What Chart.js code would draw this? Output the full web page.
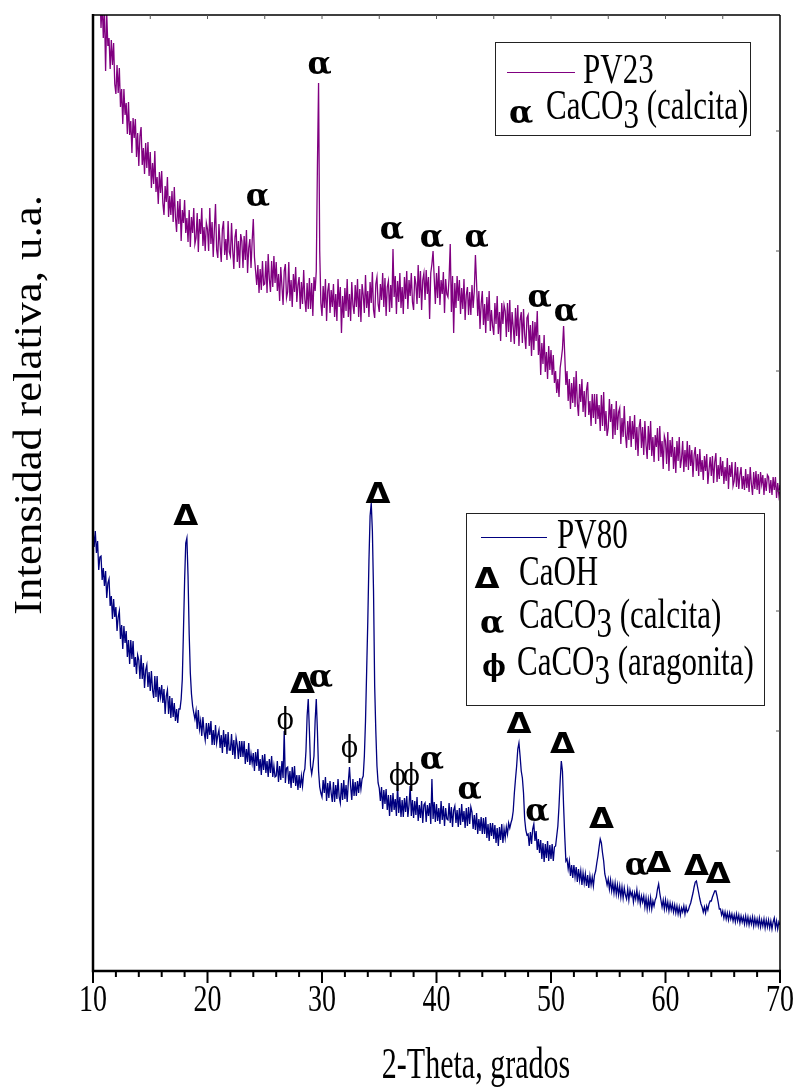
<!DOCTYPE html>
<html>
<head>
<meta charset="utf-8">
<script src="https://cdn.jsdelivr.net/npm/chart.js@4.4.1/dist/chart.umd.min.js"></script>
<style>
  body { margin: 0; background: #fff; }
  canvas { display: block; }
</style>
</head>
<body>
<canvas id="xrd-chart" width="798" height="1092"></canvas>
<script>
// -------- data (intensity in arbitrary units) -------- //

// scan grid: 10 to 70 degrees, 0.1 degree step
const startAngle = 10;
const stepAngle = 0.1;

const tickAngles = [10, 20, 30, 40, 50, 60, 70];

// PV23, one row per degree (x.0 ... x.9)
const pv23 = [
  1003, 981, 996, 967, 989, 957, 983, 943, 969, 933,
  962, 900, 957, 925, 933, 902, 931, 906, 928, 887,
  877, 906, 878, 903, 864, 882, 847, 882, 856, 868,
  837, 869, 836, 850, 818, 853, 833, 852, 814, 838,
  805, 835, 844, 806, 823, 797, 828, 803, 829, 795,
  819, 783, 808, 787, 820, 779, 794, 767, 799, 778,
  800, 768, 756, 785, 769, 794, 754, 775, 756, 780,
  749, 784, 754, 739, 770, 747, 772, 730, 761, 748,
  771, 738, 753, 729, 761, 724, 754, 738, 763, 727,
  733, 758, 719, 752, 737, 763, 725, 744, 720, 748,
  742, 720, 763, 727, 749, 714, 742, 767, 721, 713,
  747, 726, 709, 742, 750, 716, 732, 711, 750, 719,
  715, 748, 721, 702, 734, 742, 709, 730, 703, 737,
  730, 703, 735, 711, 741, 698, 723, 732, 703, 730,
  752, 714, 700, 686, 706, 678, 702, 681, 710, 686,
  687, 710, 678, 717, 692, 679, 710, 684, 715, 688,
  709, 680, 697, 670, 704, 685, 666, 700, 707, 673,
  679, 709, 670, 691, 664, 697, 679, 704, 669, 686,
  694, 662, 689, 667, 701, 672, 659, 688, 662, 693,
  662, 688, 655, 694, 680, 700, 805, 888, 720, 668,
  655, 685, 663, 692, 650, 680, 688, 658, 681, 664,
  687, 654, 677, 650, 692, 664, 684, 638, 675, 653,
  683, 660, 692, 654, 677, 650, 689, 666, 657, 686,
  664, 692, 654, 682, 649, 687, 676, 658, 696, 663,
  680, 654, 689, 668, 699, 661, 653, 687, 694, 667,
  659, 687, 671, 698, 664, 693, 655, 684, 690, 659,
  686, 663, 722, 674, 695, 657, 690, 669, 698, 663,
  684, 657, 694, 672, 700, 662, 691, 675, 698, 669,
  661, 695, 687, 667, 706, 673, 700, 661, 691, 698,
  671, 701, 677, 694, 652, 698, 707, 720, 693, 667,
  698, 673, 705, 666, 691, 677, 699, 658, 692, 677,
  674, 693, 727, 659, 695, 638, 688, 663, 695, 670,
  691, 657, 683, 662, 692, 651, 676, 684, 656, 679,
  656, 686, 663, 680, 716, 688, 655, 680, 642, 667,
  680, 646, 667, 638, 674, 650, 680, 640, 661, 645,
  636, 668, 647, 675, 637, 659, 630, 668, 647, 666,
  660, 634, 668, 639, 671, 629, 659, 644, 627, 663,
  635, 666, 625, 651, 659, 628, 662, 636, 622, 653,
  656, 625, 646, 615, 650, 621, 649, 630, 660, 616,
  636, 596, 628, 607, 636, 599, 619, 592, 625, 601,
  621, 596, 616, 588, 600, 578, 592, 574, 603, 612,
  622, 645, 616, 586, 600, 570, 592, 562, 588, 568,
  594, 564, 600, 568, 555, 587, 569, 592, 559, 580,
  554, 581, 589, 556, 570, 545, 577, 553, 577, 547,
  577, 552, 566, 540, 576, 545, 579, 540, 560, 535,
  543, 572, 549, 567, 532, 562, 536, 570, 541, 559,
  563, 527, 553, 534, 565, 537, 523, 550, 531, 555,
  524, 550, 532, 556, 521, 544, 515, 544, 552, 523,
  544, 516, 550, 526, 512, 545, 521, 550, 515, 534,
  509, 536, 524, 543, 510, 545, 514, 530, 502, 535,
  530, 507, 539, 500, 531, 514, 534, 502, 524, 498,
  530, 510, 534, 503, 512, 530, 499, 521, 504, 530,
  501, 526, 505, 521, 494, 516, 524, 500, 517, 495,
  522, 499, 511, 491, 515, 500, 517, 487, 501, 514,
  495, 515, 488, 509, 518, 489, 506, 492, 514, 495,
  510, 487, 504, 490, 513, 482, 506, 494, 509, 485,
  490, 509, 484, 504, 482, 496, 504, 482, 495, 481,
  502, 483, 497, 479, 504, 487, 476, 499, 482, 500,
  481, 497, 477, 499, 487, 496, 476, 493, 480, 496,
  494, 478, 491, 476, 494, 481, 494, 473, 488, 476,
  486
];

// PV80, one row per degree (x.0 ... x.9)
const pv80 = [
  442, 424, 440, 418, 430, 401, 414, 415, 391, 403,
  385, 400, 373, 388, 392, 365, 375, 352, 372, 354,
  364, 340, 354, 360, 332, 346, 322, 345, 328, 340,
  314, 331, 307, 331, 312, 330, 304, 314, 297, 316,
  311, 292, 316, 292, 308, 283, 301, 306, 284, 299,
  280, 300, 281, 273, 295, 274, 295, 269, 284, 274,
  286, 268, 282, 257, 275, 281, 257, 275, 253, 273,
  254, 268, 250, 262, 248, 262, 262, 272, 292, 340,
  390, 428, 433, 395, 337, 298, 277, 265, 258, 252,
  260, 242, 261, 242, 250, 235, 254, 239, 231, 248,
  232, 248, 236, 250, 226, 241, 226, 246, 228, 236,
  241, 223, 236, 218, 241, 224, 237, 217, 239, 221,
  221, 237, 216, 231, 212, 233, 226, 212, 230, 214,
  230, 214, 230, 207, 222, 209, 228, 206, 217, 208,
  218, 200, 219, 205, 222, 200, 212, 196, 216, 201,
  217, 198, 210, 194, 212, 198, 215, 194, 205, 194,
  195, 210, 189, 205, 191, 210, 193, 240, 188, 203,
  204, 187, 200, 183, 204, 188, 205, 185, 196, 181,
  196, 183, 195, 185, 198, 202, 220, 255, 272, 240,
  205, 197, 205, 215, 250, 272, 240, 200, 184, 178,
  174, 191, 178, 194, 170, 188, 173, 190, 178, 169,
  189, 169, 186, 172, 192, 174, 168, 188, 171, 191,
  172, 186, 169, 189, 204, 185, 171, 192, 175, 189,
  175, 190, 178, 193, 182, 192, 195, 215, 250, 300,
  350, 410, 455, 468, 440, 380, 285, 240, 205, 188,
  183, 170, 184, 162, 181, 167, 182, 161, 176, 155,
  176, 159, 178, 161, 172, 155, 185, 158, 174, 154,
  171, 154, 173, 159, 175, 154, 166, 185, 155, 171,
  153, 170, 156, 174, 150, 166, 153, 170, 148, 166,
  168, 149, 166, 155, 168, 147, 192, 152, 169, 149,
  167, 150, 163, 147, 170, 151, 165, 145, 163, 152,
  151, 168, 148, 164, 144, 161, 165, 148, 161, 144,
  163, 146, 167, 149, 160, 143, 163, 145, 164, 147,
  164, 159, 142, 156, 141, 158, 137, 152, 140, 154,
  137, 153, 137, 154, 133, 147, 130, 148, 135, 148,
  132, 146, 128, 143, 125, 144, 131, 147, 128, 142,
  133, 144, 137, 148, 143, 148, 152, 160, 178, 192,
  205, 222, 228, 215, 200, 193, 178, 152, 141, 136,
  137, 125, 139, 127, 142, 147, 130, 140, 121, 132,
  118, 131, 112, 128, 109, 127, 113, 130, 110, 126,
  112, 127, 110, 124, 125, 135, 145, 165, 190, 210,
  200, 165, 135, 110, 112, 102, 110, 95, 106, 93,
  106, 94, 104, 89, 102, 91, 100, 86, 98, 88,
  97, 85, 96, 83, 95, 86, 94, 85, 96, 100,
  108, 115, 124, 132, 128, 118, 110, 97, 92, 86,
  92, 82, 91, 80, 88, 78, 88, 77, 86, 76,
  85, 74, 84, 73, 83, 76, 72, 82, 71, 81,
  75, 79, 69, 78, 72, 81, 70, 77, 67, 75,
  69, 75, 64, 73, 62, 72, 63, 73, 62, 70,
  65, 71, 74, 82, 87, 78, 71, 64, 71, 62,
  71, 62, 69, 60, 68, 61, 67, 59, 66, 58,
  65, 57, 64, 56, 63, 59, 65, 57, 64, 59,
  61, 65, 68, 73, 78, 84, 89, 90, 84, 78,
  72, 67, 64, 59, 64, 58, 65, 61, 67, 70,
  70, 74, 77, 80, 80, 75, 69, 62, 62, 56,
  60, 53, 59, 52, 58, 51, 58, 52, 57, 50,
  56, 49, 57, 50, 56, 48, 55, 49, 54, 47,
  55, 47, 54, 46, 53, 47, 54, 45, 53, 46,
  52, 45, 53, 44, 51, 45, 52, 43, 51, 44,
  51, 43, 50, 42, 49, 53, 43, 50, 42, 49,
  46
];

// phase labels over the peaks
const pv23MarkAngles  = [24.4, 29.8, 36.1, 39.6, 43.5, 49.0, 51.3];
const pv23MarkHeights = [773, 905, 740, 732, 732, 672, 658];
const pv23MarkSymbols = ['α', 'α', 'α', 'α', 'α', 'α', 'α'];

const pv80MarkAngles  = [18.1, 34.9, 28.3, 29.9, 26.8, 32.4, 36.6, 37.8, 39.6, 42.9, 47.2, 48.8, 51.0, 54.4, 57.5, 59.4, 62.7, 64.6];
const pv80MarkHeights = [455, 477, 287, 292, 250, 222, 194, 194, 210, 180, 247, 158, 227, 152, 104, 108, 105, 97];
const pv80MarkSymbols = ['Δ', 'Δ', 'Δ', 'α', 'ϕ', 'ϕ', 'ϕ', 'ϕ', 'α', 'α', 'Δ', 'α', 'Δ', 'Δ', 'α', 'Δ', 'Δ', 'Δ'];

const purple = '#800080';
const navy = '#00007f';

// -------- helpers -------- //

const toPoints = (values) => values.map((v, i) => ({
  x: Math.round((startAngle + i * stepAngle) * 10) / 10,
  y: v
}));

// the figure is stretched vertically, so text is drawn taller than wide
const SY = 1.35;

function putText(ctx, text, x, y, font, align, sy, sx) {
  ctx.save();
  ctx.translate(x, y);
  ctx.scale(sx || 1, sy || SY);
  ctx.font = font;
  ctx.textAlign = align || 'center';
  ctx.textBaseline = 'middle';
  ctx.fillStyle = '#000';
  ctx.fillText(text, 0, 0);
  ctx.restore();
  ctx.font = font;
  return ctx.measureText(text).width * (sx || 1);
}

// hollow triangle for the CaOH label, sized like the text glyphs
function putDelta(ctx, x, y, w, h) {
  ctx.save();
  ctx.strokeStyle = '#000';
  ctx.lineWidth = 2.6;
  ctx.lineJoin = 'miter';
  ctx.beginPath();
  ctx.moveTo(x, y - h / 2);
  ctx.lineTo(x + w / 2, y + h / 2);
  ctx.lineTo(x - w / 2, y + h / 2);
  ctx.closePath();
  ctx.stroke();
  ctx.restore();
}

// greek phase symbols
function putSymbol(ctx, sym, x, y, legend) {
  if (sym === 'α') {
    putText(ctx, sym, x, y, 'bold 30px "DejaVu Serif"', 'center', 1.05, 1.05);
  } else if (sym === 'Δ') {
    putText(ctx, sym, x, y + 1, 'bold 34px "DejaVu Sans"', 'center', 0.85, 0.95);
  } else {
    putText(ctx, sym, x, y, (legend ? 'bold ' : '') + '25px "DejaVu Serif"', 'center', 1.2, 1);
  }
}

// text with a lowered "3" like CaCO3
function putFormula(ctx, parts, x, y, size) {
  const font = size + 'px "Liberation Serif"';
  let cx = x;
  parts.forEach(p => {
    cx += putText(ctx, p[0], cx, y + p[1], font, 'left');
  });
}

// -------- frame, ticks, titles, labels and legends -------- //

const decorations = {
  id: 'decorations',
  afterDraw(chart) {
    const ctx = chart.ctx;
    const a = chart.chartArea;
    const xs = chart.scales.x;
    const ys = chart.scales.y;

    // frame
    ctx.save();
    ctx.strokeStyle = '#000';
    ctx.lineWidth = 1.5;
    ctx.beginPath();
    ctx.moveTo(a.left, a.top); ctx.lineTo(a.right, a.top);
    ctx.moveTo(a.right, a.top); ctx.lineTo(a.right, a.bottom);
    ctx.stroke();
    ctx.lineWidth = 2.5;
    ctx.beginPath();
    ctx.moveTo(a.left, a.top - 1); ctx.lineTo(a.left, a.bottom);
    ctx.lineTo(a.right + 1, a.bottom);
    ctx.stroke();

    // bottom ticks: major every 10, minor every 2
    ctx.lineWidth = 2;
    ctx.beginPath();
    for (let v = 10; v <= 70; v += 2) {
      const px = xs.getPixelForValue(v);
      const len = (v % 10 === 0) ? 12 : 6;
      ctx.moveTo(px, a.bottom);
      ctx.lineTo(px, a.bottom + len);
    }
    ctx.stroke();

    // small inner ticks on the top and right edges
    ctx.lineWidth = 1;
    ctx.strokeStyle = '#555';
    ctx.beginPath();
    for (let v = 15; v < 70; v += 5) {
      const px = xs.getPixelForValue(v);
      ctx.moveTo(px, a.top);
      ctx.lineTo(px, a.top + 4);
    }
    for (let v = 120; v < 956; v += 120) {
      const py = ys.getPixelForValue(v);
      ctx.moveTo(a.right, py);
      ctx.lineTo(a.right - 4, py);
    }
    ctx.stroke();
    ctx.restore();

    // tick labels
    tickAngles.forEach(t => {
      putText(ctx, String(t), xs.getPixelForValue(t), a.bottom + 30, '28px "Liberation Serif"');
    });

    // axis titles
    putText(ctx, '2-Theta, grados', 476, 1066, '30px "Liberation Serif"', 'center', 1.5);
    ctx.save();
    ctx.translate(31, 405);
    ctx.rotate(-Math.PI / 2);
    ctx.scale(1.15, 1);
    ctx.font = '39px "Liberation Serif"';
    ctx.textAlign = 'center';
    ctx.textBaseline = 'middle';
    ctx.fillStyle = '#000';
    ctx.fillText('Intensidad relativa, u.a.', 0, 0);
    ctx.restore();

    // phase labels
    const drawMarks = (angles, heights, symbols) => {
      angles.forEach((ang, i) => {
        putSymbol(ctx, symbols[i], xs.getPixelForValue(ang), ys.getPixelForValue(heights[i]), false);
      });
    };
    drawMarks(pv23MarkAngles, pv23MarkHeights, pv23MarkSymbols);
    drawMarks(pv80MarkAngles, pv80MarkHeights, pv80MarkSymbols);

    // legend boxes
    ctx.save();
    ctx.strokeStyle = '#222';
    ctx.lineWidth = 1;
    ctx.strokeRect(495.5, 42.5, 255, 93);
    ctx.strokeRect(466.5, 513.5, 298, 192);

    ctx.lineWidth = 1;
    ctx.strokeStyle = purple;
    ctx.beginPath(); ctx.moveTo(507, 72.5); ctx.lineTo(575, 72.5); ctx.stroke();
    ctx.strokeStyle = navy;
    ctx.beginPath(); ctx.moveTo(481, 537.5); ctx.lineTo(547, 537.5); ctx.stroke();
    ctx.restore();

    const lf = '31px "Liberation Serif"';
    putText(ctx, 'PV23', 583, 72, lf, 'left');
    putSymbol(ctx, 'α', 521, 115, true);
    putFormula(ctx, [['CaCO', 0], ['3', 9], [' (calcita)', 0]], 546, 108, 31);

    putText(ctx, 'PV80', 557, 537, lf, 'left');
    putSymbol(ctx, 'Δ', 487, 579, true);
    putText(ctx, 'CaOH', 519, 574, lf, 'left');
    putSymbol(ctx, 'α', 492, 625, true);
    putFormula(ctx, [['CaCO', 0], ['3', 9], [' (calcita)', 0]], 519, 617, 31);
    putSymbol(ctx, 'ϕ', 494, 668, true);
    putFormula(ctx, [['CaCO', 0], ['3', 9], [' (aragonita)', 0]], 517, 664, 31);
  }
};

// -------- chart -------- //

const xrdCanvas = document.getElementById('xrd-chart');

const xrdChart = new Chart(xrdCanvas, {
  type: 'line',
  data: {
    datasets: [
      {
        label: 'PV23',
        data: toPoints(pv23),
        borderColor: purple,
        borderWidth: 1.3,
        pointRadius: 0,
        tension: 0
      },
      {
        label: 'PV80',
        data: toPoints(pv80),
        borderColor: navy,
        borderWidth: 1.3,
        pointRadius: 0,
        tension: 0
      }
    ]
  },
  options: {
    responsive: false,
    animation: false,
    layout: {
      padding: { left: 93, right: 18, top: 15, bottom: 121 }
    },
    scales: {
      x: { type: 'linear', min: 10, max: 70, display: false },
      y: { min: 0, max: 956, display: false }
    },
    plugins: {
      legend: { display: false },
      tooltip: { enabled: false }
    }
  },
  plugins: [decorations]
});
</script>
</body>
</html>
